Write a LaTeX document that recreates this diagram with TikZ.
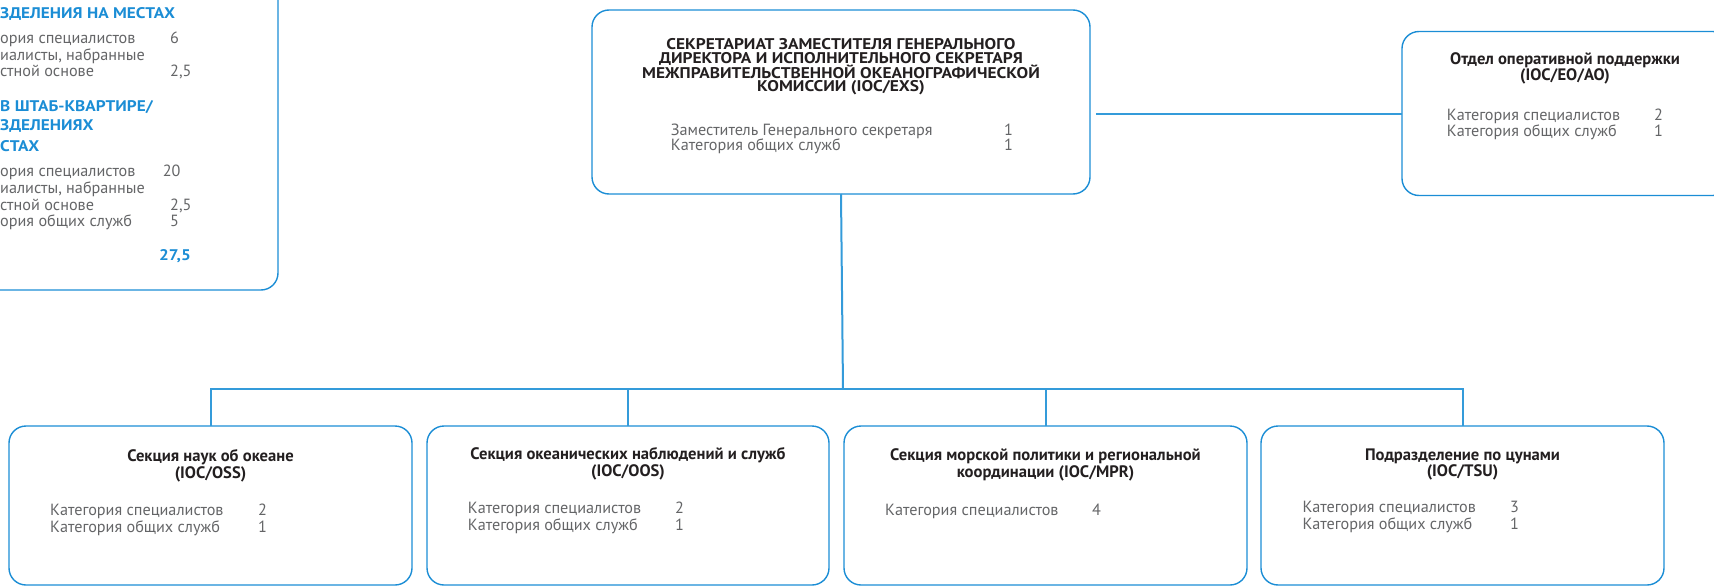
\documentclass[tikz,border=0pt]{standalone}
\usepackage{fontspec}
\setmainfont{PT Sans}
\newfontfamily\widesans[FakeStretch=1.12]{PT Sans}
\definecolor{ioblue}{RGB}{27,141,213}
\definecolor{lineblue}{RGB}{52,155,218}
\definecolor{titlek}{RGB}{35,31,32}
\definecolor{bodyg}{RGB}{100,101,103}
\tikzset{
  box/.style={draw=ioblue, line width=1.4pt, rounded corners=17pt, inner sep=0pt, outer sep=0pt},
  conn/.style={draw=lineblue, line width=2pt},
  ttl/.style={inner sep=0pt, anchor=base, font=\bfseries\fontsize{16.6}{18}\selectfont, text=titlek},
  ctl/.style={inner sep=0pt, anchor=base, font=\widesans\bfseries\fontsize{15.5}{14}\selectfont, text=titlek},
  bod/.style={inner sep=0pt, anchor=base west, font=\fontsize{16.2}{17}\selectfont, text=bodyg},
  hd/.style={inner sep=0pt, anchor=base west, font=\widesans\bfseries\fontsize{15.4}{17}\selectfont, text=ioblue}
}
\begin{document}
\begin{tikzpicture}[x=1pt, y=-1pt]
\useasboundingbox (0,0) rectangle (1714,586);
\clip (0,0) rectangle (1714,586);
% boxes
\node[box, minimum width=428pt, minimum height=320pt] (fld) at (64,130) {};
\node[box, minimum width=498pt, minimum height=184pt] (exs) at (841,102) {};
\node[box, minimum width=328pt, minimum height=164pt] (ao) at (1566,113.5) {};
\node[box, minimum width=403pt, minimum height=159pt] (oss) at (210.5,505.5) {};
\node[box, minimum width=402pt, minimum height=159pt] (oos) at (628,505.5) {};
\node[box, minimum width=403pt, minimum height=159pt] (mpr) at (1045.5,505.5) {};
\node[box, minimum width=403pt, minimum height=159pt] (tsu) at (1462.5,505.5) {};
% connectors
\coordinate (bus) at (843,389);
\draw[conn] (exs.south) -- (bus);
\draw[conn] (oss.north) -- (oss.north |- bus) -- (tsu.north |- bus) -- (tsu.north);
\draw[conn] (oos.north) -- (oos.north |- bus);
\draw[conn] (mpr.north) -- (mpr.north |- bus);
\draw[conn] ([xshift=6pt]exs.east |- ao.west) -- (ao.west);
% left box texts
\node[hd] (f1) at (0,19) {ЗДЕЛЕНИЯ НА МЕСТАХ};
\node[bod] (f2) at (0,43.3) {ория специалистов};
\node[bod] (f2n) at (170,43.3) {6};
\node[bod] (f3) at (0,60) {иалисты, набранные};
\node[bod] (f4) at (0,76.7) {стной основе};
\node[bod] (f4n) at (170,76.7) {2,5};
\node[hd] (f5) at (0,111.7) {В ШТАБ-КВАРТИРЕ/};
\node[hd] (f6) at (0,130.7) {ЗДЕЛЕНИЯХ};
\node[hd] (f7) at (0,151.7) {СТАХ};
\node[bod] (f8) at (0,176.7) {ория специалистов};
\node[bod] (f8n) at (162.7,176.7) {20};
\node[bod] (f9) at (0,193) {иалисты, набранные};
\node[bod] (f10) at (0,210) {стной основе};
\node[bod] (f10n) at (170,210) {2,5};
\node[bod] (f11) at (0,226.7) {ория общих служб};
\node[bod] (f11n) at (170,226.7) {5};
\node[hd] (f12) at (159,260.7) {27,5};
% central box
\node[ctl] (e1) at (841,50) {СЕКРЕТАРИАТ ЗАМЕСТИТЕЛЯ ГЕНЕРАЛЬНОГО};
\node[ctl] (e2) at (841,64) {ДИРЕКТОРА И ИСПОЛНИТЕЛЬНОГО СЕКРЕТАРЯ};
\node[ctl] (e3) at (841,78) {МЕЖПРАВИТЕЛЬСТВЕННОЙ ОКЕАНОГРАФИЧЕСКОЙ};
\node[ctl] (e4) at (841,92) {КОМИССИИ (IOC/EXS)};
\node[bod] (e5) at (670.7,135) {Заместитель Генерального секретаря};
\node[bod] (e5n) at (1004,135) {1};
\node[bod] (e6) at (670.7,150.7) {Категория общих служб};
\node[bod] (e6n) at (1004,150.7) {1};
% right box
\node[ttl] (a1) at (1565,65) {Отдел оперативной поддержки};
\node[ttl] (a2) at (1565,80.7) {(IOC/EO/AO)};
\node[bod] (a3) at (1446.7,120) {Категория специалистов};
\node[bod] (a3n) at (1654,120) {2};
\node[bod] (a4) at (1446.7,136) {Категория общих служб};
\node[bod] (a4n) at (1654,136) {1};
% bottom boxes
\node[ttl] (s1) at (210.5,461.5) {Секция наук об океане};
\node[ttl] (s2) at (210.5,478) {(IOC/OSS)};
\node[bod] (s3) at (50,515.7) {Категория специалистов};
\node[bod] (s3n) at (258,515.7) {2};
\node[bod] (s4) at (50,532) {Категория общих служб};
\node[bod] (s4n) at (258,532) {1};
\node[ttl] (o1) at (628,459) {Секция океанических наблюдений и служб};
\node[ttl] (o2) at (628,476) {(IOC/OOS)};
\node[bod] (o3) at (467.7,513) {Категория специалистов};
\node[bod] (o3n) at (675,513) {2};
\node[bod] (o4) at (467.7,530) {Категория общих служб};
\node[bod] (o4n) at (675,530) {1};
\node[ttl] (m1) at (1045.5,460.7) {Секция морской политики и региональной};
\node[ttl] (m2) at (1045.5,477) {координации (IOC/MPR)};
\node[bod] (m3) at (885,515.7) {Категория специалистов};
\node[bod] (m3n) at (1092,515.7) {4};
\node[ttl] (u1) at (1462.5,460) {Подразделение по цунами};
\node[ttl] (u2) at (1462.5,476.7) {(IOC/TSU)};
\node[bod] (u3) at (1302.3,512.7) {Категория специалистов};
\node[bod] (u3n) at (1510,512.7) {3};
\node[bod] (u4) at (1302.3,529.3) {Категория общих служб};
\node[bod] (u4n) at (1510,529.3) {1};
\end{tikzpicture}
\end{document}
